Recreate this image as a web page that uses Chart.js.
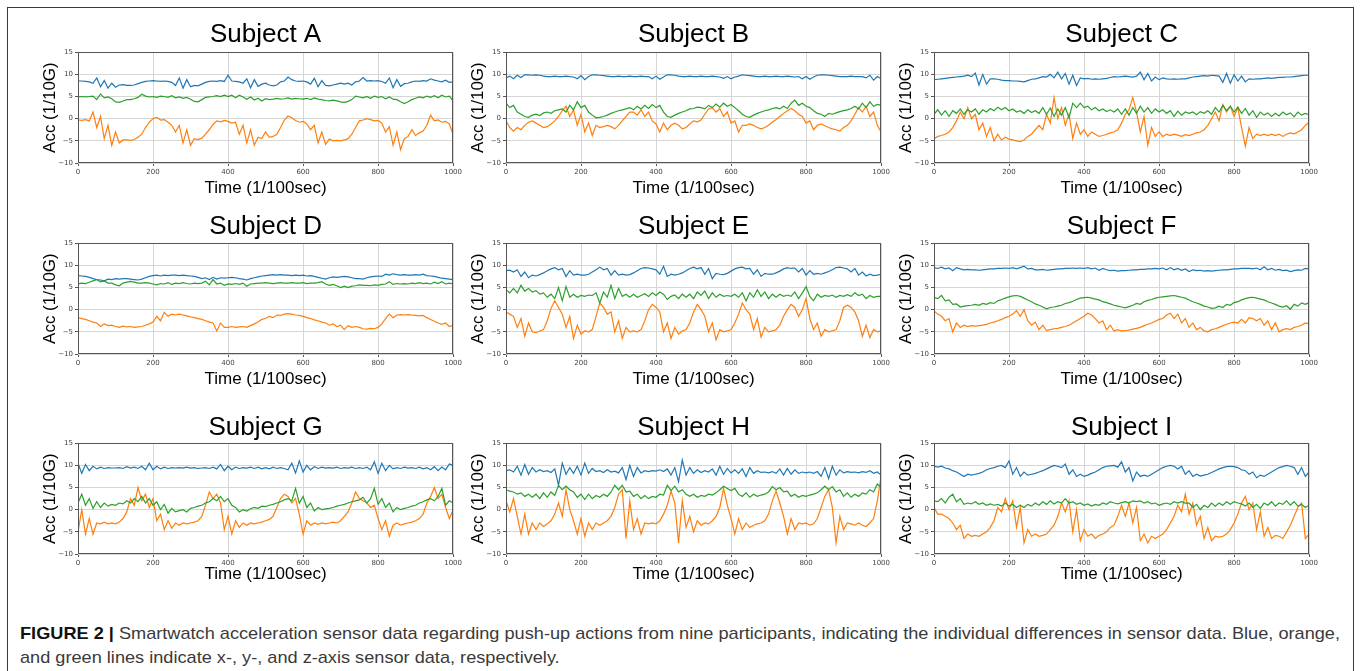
<!DOCTYPE html>
<html>
<head>
<meta charset="utf-8">
<title>Smartwatch push-up acceleration</title>
<script src="https://cdn.jsdelivr.net/npm/chart.js@4.4.1/dist/chart.umd.min.js"></script>
<style>
  html, body { margin: 0; padding: 0; background: #fff; overflow: hidden; }
  body { width: 1360px; height: 671px; position: relative; font-family: "Liberation Sans", Arial, sans-serif; }
  #frame { position: absolute; left: 7px; top: 7px; width: 1347px; height: 700px; border: 1px solid #3a3a3a; box-sizing: border-box; }
  .panel { position: absolute; width: 430px; height: 187px; }
  #caption { position: absolute; left: 20px; top: 622px; font-size: 17px; line-height: 24px; color: #3a3a3a; white-space: nowrap; transform-origin: 0 0; }
  #caption b { color: #111; }
</style>
</head>
<body>
<div id="frame"></div>
<div id="caption">
  <div id="capLine1"><b>FIGURE 2 |</b> Smartwatch acceleration sensor data regarding push-up actions from nine participants, indicating the individual differences in sensor data. Blue, orange,</div>
  <div>and green lines indicate x-, y-, and z-axis sensor data, respectively.</div>
</div>
<script>
// axis ticks
const xTicks = [0, 200, 400, 600, 800, 1000];
const yTicks = [-10, -5, 0, 5, 10, 15];
// sample times (1/100 sec), one reading every 10
const sampleTimes = Array.from({ length: 101 }, (_, i) => i * 10);

const subjects = ['Subject A', 'Subject B', 'Subject C', 'Subject D', 'Subject E', 'Subject F', 'Subject G', 'Subject H', 'Subject I'];

// Subject A
const accA_x = [8.5,8.5,8.4,8.3,8.0,9.2,7.2,8.6,6.9,8.0, 7.1,7.6,7.7,7.5,7.5,7.6,7.9,8.2,8.4,8.5, 8.6,8.5,8.4,8.5,8.4,8.2,7.5,9.2,6.9,8.8, 7.2,7.5,7.4,7.8,8.2,8.4,8.5,8.4,8.6,8.4, 9.8,8.5,8.4,8.3,8.0,9.0,7.0,8.8,7.3,7.8, 8.0,7.6,7.4,7.6,8.3,8.5,9.4,8.8,8.5,8.4, 8.5,8.3,7.8,9.1,7.2,8.6,7.5,7.4,7.6,7.8, 8.0,7.8,8.0,7.6,8.3,8.5,9.3,8.5,8.6,8.5, 8.6,8.4,8.0,9.2,7.0,8.8,7.3,7.9,8.0,8.3, 8.5,8.4,8.6,8.5,9.0,8.7,8.5,8.3,8.7,8.2, 8.3];
const accA_y = [-0.3,-0.4,-0.2,-0.5,1.5,-2,0.5,-4.5,-1.5,-6, -3,-5.5,-4.8,-4.8,-4.9,-4.7,-4.2,-3.5,-2,-0.8, 0,0.3,-0.3,-0.2,-0.8,-1.5,-3,-1.5,-5.5,-2.5, -6,-4.5,-4.7,-4.4,-3.5,-2.5,-1.3,-0.5,-0.7,-0.4, -0.6,-1,-0.8,-3.5,-1.5,-5.5,-2.5,-6,-4.2,-4.5, -3,-4.2,-4,-3.5,-2,-0.3,0.6,0.2,-0.4,-0.8, -0.6,-1.2,-2.5,-1.5,-5.5,-3,-5.8,-4.6,-5,-4.9, -5,-4.8,-4.5,-3.5,-2,-0.5,-0.3,0,-0.2,-0.5, -0.4,-1,-3,-1.8,-6,-3,-7,-4.5,-4,-2.5, -3.8,-3.2,-2.8,-1.5,0.8,-0.5,-0.3,-0.8,-0.6,-1.2, -3.5];
const accA_z = [4.9,5.0,4.9,5.0,5.1,4.3,5.6,4.7,4.9,4.5, 3.8,3.7,4.0,4.3,4.3,4.5,4.8,5.5,5.1,4.9, 5.0,4.8,5.1,5.0,4.8,5.2,4.7,4.9,4.6,4.8, 4.4,3.9,3.8,4.3,4.8,4.9,5.0,5.2,5.0,5.3, 5.0,5.3,4.7,5.3,4.9,4.4,4.9,4.2,4.6,4.0, 4.5,4.3,4.4,4.6,4.4,4.5,4.7,4.4,4.6,4.5, 4.4,4.6,4.3,4.7,4.4,4.3,4.1,4.0,4.2,4.0, 3.8,3.7,3.9,4.3,5.1,4.9,4.7,5.0,4.6,5.1, 4.8,5.0,4.5,4.9,4.4,4.3,3.8,3.4,3.8,4.3, 4.6,4.9,4.7,5.1,4.8,5.2,4.7,5.3,4.9,5.1, 4.0];

// Subject B
const accB_x = [9.2,9.6,9.0,9.8,9.3,9.9,9.9,9.8,9.9,9.8, 9.6,9.5,9.5,9.6,9.5,9.5,9.6,9.5,9.4,9.0, 9.7,8.8,9.5,9.9,9.9,9.8,9.7,9.6,9.5,9.5, 9.6,9.5,9.5,9.6,9.5,9.5,9.6,9.5,9.5,9.0, 9.6,8.9,9.4,9.9,9.9,9.8,9.6,9.5,9.5,9.6, 9.5,9.5,9.6,9.5,9.5,9.6,9.5,9.4,9.1,9.5, 9.0,9.4,9.6,9.9,9.8,9.7,9.6,9.5,9.5,9.6, 9.5,9.5,9.6,9.5,9.5,9.6,9.5,9.4,9.5,9.0, 9.5,8.9,9.4,9.8,9.9,9.9,9.8,9.7,9.6,9.5, 9.5,9.5,9.6,9.5,9.5,9.5,9.2,9.8,8.7,9.5, 9.0];
const accB_y = [-0.5,-2,-2.8,-2,-2.5,-1.5,-0.8,-0.5,-1,-1.5, -2,-1.8,-1.2,-0.5,0.5,1.8,2.8,0.5,2,-1.5, 1,-3,-1,-3.8,-1.5,-2,-1.8,-1.5,-1.8,-2.3, -1.5,-0.5,0.5,1.5,1.5,0.8,2,0.5,1.5,-0.5, -1.2,-3,-1,-2.5,-1.5,-1,-1.5,-2.3,-2,-1.2, -0.5,-0.7,-0.3,1,2.2,2.5,1.5,2.3,0.5,1.5, -1,-0.5,-3,-1.5,-1.5,-1.2,-1.5,-2,-2.3,-2, -1.5,-0.8,-0.2,0.5,1.2,1.8,2.3,1.8,1,0.5, -1,-0.5,-2.5,-1.5,-1.2,-1.6,-2,-2.3,-2.5,-2.8, -2,-1.5,-0.5,1,2.5,1.5,2.8,0.5,1.5,-1.5, -3];
const accB_z = [3.5,2.5,3.0,1.5,1.0,0.5,0.3,0.8,1.0,0.7, 1.3,1.5,1.2,1.8,2.0,2.2,1.5,3.0,2.0,3.8, 2.5,3.0,1.5,0.8,0.2,0.3,0.5,0.8,1.2,1.5, 1.8,2.0,2.2,2.5,2.0,2.8,2.2,3.0,2.3,3.2, 2.5,3.0,1.5,0.5,0.3,0.8,1.2,1.5,1.8,2.2, 2.3,2.6,2.5,2.2,3.0,2.5,3.3,2.6,3.5,2.8, 3.2,2.5,1.8,1.0,0.5,0.3,0.8,1.2,1.5,1.8, 2.0,2.3,2.5,2.2,2.8,2.3,3.5,4.2,3.0,3.5, 2.8,2.5,1.8,1.2,1.0,0.5,1.2,1.0,1.3,1.6, 1.8,2.0,2.3,2.8,2.2,3.5,2.5,3.8,2.8,3.2, 3.0];

// Subject C
const accC_x = [8.8,8.9,9.0,9.1,9.2,9.3,9.4,9.5,9.6,9.8, 9.5,10.3,7.6,10.0,7.8,9.0,9.0,8.9,8.7,8.6, 8.6,8.5,8.5,8.4,8.3,8.6,8.9,9.0,9.2,9.5, 9.4,10.0,9.2,10.5,9.0,10.2,7.8,9.8,7.5,9.2, 9.0,9.1,8.9,9.0,8.9,9.0,9.1,9.3,9.5,9.4, 9.5,9.6,9.5,9.4,9.6,10.5,8.8,10.2,8.5,9.4, 8.8,9.2,9.0,8.9,9.0,8.9,9.0,9.0,9.2,9.4, 9.5,9.6,9.7,9.6,9.8,9.7,9.6,8.2,10.2,8.0, 9.9,8.5,9.6,8.3,9.0,8.9,9.0,9.0,9.1,9.2, 9.1,9.2,9.3,9.3,9.4,9.4,9.5,9.6,9.7,9.8, 9.8];
const accC_y = [-4.5,-4,-3.8,-3.5,-3,-2,-0.5,1.5,0,2.5, 0,1,-2.5,-1,-4,-2,-5,-3.5,-4.8,-4.2, -4.6,-4.8,-5,-5.2,-4.8,-4,-3.5,-2.5,-1.5,-2.5, 1,-1,4.8,0,2.5,-1.5,1,-4.5,-1,-3.5, -2.5,-4,-3,-3.5,-4,-3.8,-3.5,-3.2,-3,-2.5, -1,1,2,4.8,1.5,-3,0.5,-6,-2,-4, -3,-4,-3.5,-3.8,-3.5,-3.7,-4,-3.6,-3.8,-3.5, -3.2,-3,-2.5,-1.5,0,1.5,-0.5,3.2,1.5,2.8, 0.5,2.5,-2,-6.2,-2,-4.5,-3.5,-3.8,-3.5,-3.8, -3.5,-3.8,-3.5,-4,-3.5,-3.2,-3.4,-3,-2.5,-1.5, -0.8];
const accC_z = [1.0,2.0,0.8,1.8,0.5,1.8,1.2,2.2,1.0,2.0, 1.5,2.2,1.0,2.0,1.5,2.3,1.8,2.6,2.0,2.5, 1.8,2.2,1.5,1.8,1.2,2.0,1.4,1.8,1.2,2.5, 1.0,2.4,0.5,2.2,0.8,2.5,0.2,3.5,2.5,3.5, 2.5,2.8,2.0,2.5,1.8,2.2,1.6,2.0,1.5,2.2, 1.0,2.2,0.8,2.5,1.2,2.8,1.5,2.5,1.2,2.2, 1.5,2.0,1.2,1.8,0.5,1.7,0.8,1.5,1.2,1.5, 0.9,1.6,1.2,1.8,1.0,2.5,1.5,3.0,1.8,2.8, 1.5,2.6,1.2,2.3,0.8,1.8,0.3,1.5,0.8,1.3, 0.5,1.2,0.6,1.5,0.9,1.3,0.4,1.5,0.8,1.2, 0.9];

// Subject D
const accD_x = [7.7,7.6,7.5,7.3,7.0,6.8,6.7,6.5,6.9,6.8, 7.0,6.9,7.0,7.0,6.9,6.8,6.7,6.9,7.2,7.5, 7.7,7.8,7.6,7.8,7.7,7.8,7.8,7.7,7.8,7.7, 7.6,7.5,7.3,7.0,7.2,6.8,7.3,6.9,7.2,7.1, 7.2,7.3,7.2,7.0,6.9,6.7,7.0,7.2,7.4,7.6, 7.7,7.8,7.9,7.8,7.9,7.8,7.8,7.7,7.8,7.7, 7.8,7.6,7.7,7.5,7.3,7.1,6.9,7.2,7.4,7.3, 7.4,7.5,7.4,7.2,7.0,7.0,6.9,7.2,7.4,7.5, 7.6,7.5,8.0,7.8,8.1,7.9,7.8,7.9,7.8,7.8, 7.9,7.8,8.0,7.7,7.6,7.5,7.3,7.1,7.0,6.9, 6.8];
const accD_y = [-1.8,-2.0,-2.2,-2.5,-2.8,-3.0,-3.8,-3.2,-3.6,-3.5, -3.8,-4.0,-3.7,-3.9,-3.8,-4.0,-3.9,-3.8,-3.5,-3.2, -2.8,-1.5,-2.5,-0.6,-1.5,-1.0,-1.2,-1.0,-1.2,-1.4, -1.6,-1.8,-2.0,-2.2,-2.5,-2.8,-3.0,-4.8,-3.0,-4.0, -4.0,-3.8,-4.0,-3.9,-3.8,-4.0,-3.6,-3.2,-2.8,-2.2, -2.0,-1.5,-1.8,-1.2,-1.3,-1.0,-0.9,-1.0,-1.2,-1.3, -1.5,-1.8,-2.0,-2.3,-2.5,-2.8,-3.0,-3.5,-3.2,-3.8, -3.5,-4.5,-3.6,-4.0,-3.8,-4.0,-4.3,-4.4,-4.2,-4.3, -4.0,-3.2,-2.0,-1.0,-1.8,-1.2,-1.1,-1.2,-1.1,-1.2, -1.3,-1.4,-1.3,-1.8,-2.2,-2.6,-3.0,-3.3,-3.0,-3.8, -3.5];
const accD_z = [5.8,6.0,5.9,6.2,6.5,6.8,6.3,6.5,6.0,6.0, 5.6,5.4,6.0,6.2,6.4,6.2,6.0,6.0,6.1,6.0, 5.8,5.6,5.9,5.8,6.1,5.7,6.0,5.9,6.1,5.9, 5.8,6.0,5.9,6.0,6.4,5.6,6.8,5.8,6.0,5.5, 5.8,5.7,5.9,5.7,6.0,5.3,5.8,5.9,6.0,6.0, 6.1,6.0,5.9,6.0,6.1,6.0,6.0,6.1,6.0,6.0, 6.1,5.9,6.0,6.0,6.1,6.3,5.8,5.5,5.7,5.4, 5.0,5.3,5.0,5.3,5.4,5.6,5.5,5.5,5.4,5.6, 5.5,5.7,5.8,6.3,5.7,5.9,5.8,5.9,5.8,6.0, 5.9,6.1,5.9,6.0,5.8,6.2,5.9,6.3,5.8,6.0, 5.8];

// Subject E
const accE_x = [8.8,8.9,8.5,9.0,7.5,8.5,7.2,7.8,7.6,7.9, 8.3,8.8,9.2,9.5,9.0,9.3,7.5,8.8,7.8,8.0, 7.8,7.8,8.0,8.5,9.0,9.6,9.0,9.3,7.8,8.8, 7.8,8.0,7.8,7.9,8.3,8.8,9.3,9.5,9.4,9.2, 9.0,8.0,9.8,7.5,8.0,7.8,8.0,8.3,8.8,9.3, 9.6,9.2,9.5,8.0,9.3,7.0,8.2,8.0,7.9,8.2, 8.7,9.2,9.5,9.6,9.2,9.3,8.0,9.0,7.5,8.2, 8.0,8.0,8.3,8.7,9.2,9.5,9.3,9.4,8.5,9.3, 7.8,8.8,8.0,8.2,8.0,8.3,8.6,9.0,9.5,9.6, 9.4,9.2,8.5,9.3,7.8,8.5,7.6,8.0,7.7,7.8, 8.0];
const accE_y = [-0.5,-1,-1.5,-4,-2,-6,-3,-5,-5.2,-4.8, -4.5,-2.5,0.3,2,0.5,-1,-4,-1.5,-6.5,-3.5, -5.5,-4.8,-5,-4.5,-1.5,1.5,0.5,-1,-0.5,-5, -2.5,-6.5,-4,-5,-4.8,-5,-4.5,-2.5,0,1.2, 0.5,-0.5,-5,-3,-6.5,-4,-5.5,-4.8,-4.5,-3, -0.5,1.2,0,-1.5,-5,-3,-6.8,-4.5,-5,-4.8, -4.5,-3,-1,1.5,0,-1,-4.5,-2,-6.2,-4, -5,-4.8,-4.5,-3.5,-1.5,0,1.2,0.5,-1.5,0, 2.5,-2,-4.5,-3,-6,-4.5,-5,-4.8,-4.5,-2.5, 0.5,1,0.5,-0.5,-2.5,-6,-3.5,-6.3,-4.5,-5, -4.8];
const accE_z = [4.5,3.8,4.8,3.8,5.5,4.2,4.8,4.0,4.3,3.5, 3.8,2.8,3.5,2.5,5.0,2.0,5.2,2.8,3.5,2.8, 3.2,3.0,3.3,3.2,3.8,1.5,4.0,2.8,5.5,2.5, 4.8,3.0,3.5,2.8,3.5,2.8,3.2,3.6,3.0,3.8, 3.2,4.0,3.5,2.3,3.0,3.3,2.5,3.5,2.8,3.5, 2.5,4.0,3.2,4.2,2.5,3.8,2.8,3.5,3.0,3.2, 3.0,3.5,2.8,3.8,2.0,3.8,2.8,4.5,3.0,4.0, 2.5,3.5,2.8,3.5,3.0,3.3,3.0,4.0,2.5,3.8, 5.2,3.0,2.0,3.5,2.8,3.2,3.0,3.3,2.8,3.2, 3.0,3.4,3.0,3.8,3.2,3.5,2.5,3.2,2.8,3.0, 3.0];

// Subject F
const accF_x = [9.5,9.3,9.6,9.2,9.4,8.8,9.5,9.2,9.0,9.1, 9.0,9.0,8.9,9.0,9.1,9.2,9.2,9.3,9.3,9.4, 9.3,9.5,9.2,9.5,9.8,9.2,9.3,9.0,9.0,9.1, 8.9,9.0,9.1,9.2,9.2,9.3,9.3,9.4,9.3,9.4, 9.3,9.5,9.2,9.4,8.9,9.3,9.0,8.8,8.9,8.7, 8.8,8.8,8.9,9.0,9.0,9.1,9.1,9.2,9.2,9.3, 9.2,9.4,9.0,9.5,9.0,9.3,8.9,9.2,8.6,9.0, 8.8,8.9,8.7,8.8,8.7,8.8,8.9,9.0,9.0,9.1, 9.2,9.2,9.3,9.3,9.3,9.2,9.4,9.0,9.7,9.0, 9.3,8.9,9.1,8.8,8.9,8.6,8.8,9.0,8.9,9.3, 9.2];
const accF_y = [-0.3,-1.0,-1.5,-2.5,-2.0,-5.0,-3.0,-4.0,-3.5,-3.8, -3.6,-3.7,-3.6,-3.5,-3.3,-3.0,-2.8,-2.5,-2.2,-1.8, -1.5,-1.0,-0.2,-1.5,0.0,-2.5,-3.5,-2.8,-4.5,-3.5, -4.7,-4.5,-4.3,-4.2,-4.0,-3.8,-3.5,-3.0,-2.5,-2.0, -1.5,-0.8,-1.2,-2.0,-3.0,-2.5,-4.5,-3.5,-4.8,-4.5, -4.8,-4.7,-4.6,-4.4,-4.2,-4.0,-3.6,-3.3,-3.0,-2.6, -2.2,-2.0,-1.2,-0.8,-2.0,-1.0,-3.0,-2.0,-4.0,-3.0, -4.5,-4.0,-4.8,-5.0,-4.5,-4.3,-4.0,-3.6,-3.3,-3.0, -2.8,-3.0,-2.2,-3.0,-1.8,-2.0,-2.5,-2.0,-3.5,-2.5, -4.5,-3.0,-5.0,-4.5,-4.3,-4.5,-4.0,-3.8,-3.5,-3.0, -3.2];
const accF_z = [2.8,2.5,3.2,2.0,2.2,1.2,1.3,0.6,0.8,0.9, 1.0,1.2,1.0,1.4,1.2,1.6,1.4,2.0,2.3,2.6, 2.9,3.1,3.2,3.0,2.6,2.2,1.8,1.3,1.0,0.6, 0.2,0.5,0.6,0.8,1.0,1.4,1.6,1.9,2.3,2.6, 2.7,2.8,2.6,2.4,2.2,1.8,1.6,1.3,1.0,0.8, 0.6,0.4,0.7,1.0,1.4,1.2,1.8,2.1,2.3,2.6, 2.8,2.9,3.0,3.1,3.2,3.0,2.8,2.6,2.2,1.8, 1.5,1.2,0.8,0.6,0.3,0.4,0.8,0.5,1.2,1.0, 1.6,1.8,2.2,2.5,2.7,2.8,2.6,2.4,2.2,1.8, 1.5,1.2,0.8,0.6,0.9,0.1,1.2,0.8,1.5,1.2, 1.6];

// Subject G
const accG_x = [10.5,8.2,10.2,8.8,9.8,9.2,9.6,9.3,9.5,9.4, 9.4,9.5,9.3,9.7,9.4,9.6,9.3,9.8,9.0,10.5, 9.0,9.8,9.2,9.6,9.3,9.5,9.4,9.5,9.4,9.6, 9.4,9.5,9.3,9.4,9.5,9.3,9.6,9.2,10.2,8.8, 9.8,9.0,9.6,9.3,9.5,9.4,9.6,9.3,9.6,9.2, 9.5,9.2,9.6,9.3,9.5,9.3,9.0,10.5,8.3,11.0, 8.5,10.0,9.0,9.7,9.3,9.6,9.4,9.5,9.4,9.6, 9.3,9.5,9.4,9.6,9.3,9.5,9.3,9.6,9.0,10.8, 8.2,10.5,8.8,10.0,9.2,9.5,9.3,9.6,9.4,9.5, 9.3,9.6,9.2,9.5,9.0,9.7,8.8,9.6,9.0,10.3, 10.0];
const accG_y = [-5,0,-5.5,-2,-5.5,-3,-3.2,-2.8,-3.2,-3.0, -3.2,-2.8,-2.0,-0.5,2.5,1.0,5.0,2.0,3.5,0.5, 2.5,-2.5,-1.0,-4.5,-2.5,-4.2,-3.0,-3.5,-3.0,-3.2, -3.0,-2.8,-2.5,-1.5,1.0,4.0,2.5,3.5,1.5,-4.5, -1.5,-5.5,-2.5,-4.0,-3.0,-3.5,-3.0,-3.2,-3.0,-2.8, -2.5,-2.2,-1.5,0.5,2.5,3.5,3.0,1.5,2.5,-1.0, -5.5,-2.5,-3.5,-3.0,-3.3,-3.0,-3.2,-3.0,-2.8,-3.0, -2.5,-1.5,-0.5,1.5,4.0,2.5,2.0,1.5,0.5,1.0, -2.0,-4.5,-2.5,-6.0,-3.5,-3.0,-3.5,-3.2,-3.0,-2.8, -2.5,-2.0,-1.0,1.5,3.0,5.0,2.5,3.5,0.5,-2.0, 0.0];
const accG_z = [1.5,3.5,1.0,2.5,0.3,1.8,0.5,1.5,0.8,1.2, 1.0,1.5,1.3,2.0,1.5,2.5,1.8,3.0,1.5,2.5, 1.0,1.8,0.0,1.2,-0.8,0.3,-0.5,-0.2,0.0,-0.5, 0.3,0.5,0.8,1.0,1.5,1.8,2.5,2.0,3.0,1.8, 2.5,1.0,0.5,-0.5,0.0,-0.3,0.2,0.5,0.3,0.8, 0.7,1.0,1.2,1.5,1.8,2.2,2.5,2.0,4.8,1.5, 3.0,0.5,1.5,-0.3,0.5,0.0,0.2,0.3,0.5,0.8, 1.0,1.2,1.5,1.8,2.0,2.2,2.8,1.5,2.5,4.8, 1.2,2.5,0.5,1.5,-0.5,0.5,0.0,0.3,0.5,0.8, 1.0,1.5,1.8,2.2,2.5,2.0,3.0,4.8,1.0,2.0, 1.5];

// Subject H
const accH_x = [8.8,9.0,8.5,9.8,7.8,10.2,8.0,9.5,8.5,9.0, 8.6,8.8,8.4,9.2,5.5,10.5,8.0,9.5,8.2,9.8, 7.8,10.5,8.2,9.3,8.6,8.8,8.4,9.0,8.5,8.7, 8.3,9.5,6.8,10.0,7.5,9.5,8.3,8.8,8.6,8.8, 8.7,9.0,8.6,9.2,7.8,9.5,6.3,11.2,7.8,9.5, 8.2,9.0,8.4,8.8,8.5,9.2,7.8,9.8,8.0,9.3, 8.3,9.0,8.2,9.2,7.5,9.5,8.2,8.8,8.4,8.5, 8.3,8.6,8.2,9.2,7.8,9.3,8.0,9.0,8.2,8.5, 8.3,8.5,8.2,8.6,7.5,9.5,7.0,9.8,7.8,9.0, 8.3,8.6,8.4,8.5,8.3,8.6,8.4,8.8,8.2,8.5, 7.8];
const accH_y = [2.0,-0.5,2.5,-1.5,-5.5,-1.0,-5.5,-3.0,-4.5,-3.0, -3.8,-3.2,-2.5,-1.0,1.5,-1.5,4.5,0.0,-2.5,-5.5, -2.0,-6.0,-3.0,-4.5,-3.0,-3.5,-3.0,-2.5,-1.5,0.5, 3.5,4.5,-6.5,2.0,-4.5,-2.0,-5.5,-3.0,-3.2,-3.0, -3.2,-2.5,-1.0,1.0,4.2,1.5,-7.5,2.0,-4.0,-1.5, -5.0,-2.5,-3.5,-3.0,-3.2,-2.5,-1.5,0.5,4.8,1.0, -2.0,-5.5,-2.0,-4.5,-3.0,-4.0,-3.5,-3.2,-3.0,-2.5, -1.0,2.0,4.2,1.5,-1.5,-5.5,-2.0,-4.5,-3.0,-3.2, -3.0,-3.5,-3.2,-2.0,0.5,3.0,4.5,0.5,-7.5,-1.5, -4.5,-3.0,-3.2,-3.5,-3.0,-3.5,-3.8,-3.0,-2.0,2.0, 7.5];
const accH_z = [4.5,4.2,4.0,3.5,3.8,3.0,3.5,2.8,3.5,2.5, 3.8,2.8,4.0,3.2,5.5,4.5,5.3,4.5,4.0,2.8, 3.5,2.3,3.5,2.5,3.2,2.8,3.5,3.0,4.0,5.5, 4.5,5.5,4.0,4.2,3.0,3.5,2.5,3.2,2.5,3.0, 2.8,3.5,3.3,5.5,4.3,5.3,4.0,4.5,3.5,3.0, 3.5,2.8,3.2,3.0,3.5,3.3,3.8,4.5,5.3,4.8, 4.3,4.8,3.5,3.0,3.8,2.8,3.5,3.0,3.3,3.5, 4.0,5.2,4.5,5.0,4.0,4.2,3.0,3.5,2.8,3.2, 3.0,3.3,3.5,3.8,4.5,5.3,4.5,5.2,4.0,4.5, 3.0,3.8,2.8,3.5,3.0,3.8,3.5,4.5,4.0,5.8, 5.0];

// Subject I
const accI_x = [9.8,9.6,9.8,9.4,9.2,8.8,8.5,8.0,7.5,8.0, 7.8,8.0,8.2,8.5,9.0,9.3,9.5,9.8,10.0,9.5, 11.0,8.0,9.5,7.5,8.5,7.8,8.0,8.2,8.5,8.8, 9.2,9.6,10.0,9.8,9.5,10.3,8.0,9.0,7.5,8.0, 7.5,7.8,8.2,8.5,9.0,9.5,9.8,9.9,10.0,9.6, 10.8,8.5,9.5,6.5,8.5,7.5,7.8,7.5,8.0,8.5, 9.0,9.5,9.8,10.0,9.8,9.2,9.8,8.0,8.8,7.5, 8.0,7.6,7.8,8.0,8.4,8.8,9.2,9.5,9.7,9.8, 9.7,9.5,9.0,8.8,8.0,8.5,7.2,7.8,7.5,8.0, 8.5,9.0,9.5,9.7,10.0,9.8,9.5,8.0,9.5,7.5, 8.5];
const accI_y = [0.5,-1.0,-1.0,-1.5,-2.0,-3.0,-4.5,-3.5,-6.5,-5.5, -6.0,-5.8,-6.0,-5.5,-5.0,-4.0,-2.5,0.5,-0.5,2.5, 0.0,2.0,-4.0,0.5,-7.5,-4.5,-6.0,-5.5,-6.0,-5.8, -5.5,-4.5,-3.5,-1.5,1.5,-0.5,2.0,-5.0,0.0,-7.0, -4.5,-6.0,-5.5,-6.5,-5.8,-5.5,-5.0,-4.0,-3.5,-1.5, 1.0,-1.5,1.5,-3.0,0.5,-7.0,-5.5,-7.5,-6.0,-6.5, -6.0,-5.5,-4.5,-3.0,-1.5,1.0,-0.5,3.5,-1.0,1.5, -3.5,-1.5,-6.5,-4.0,-7.0,-6.0,-6.2,-6.0,-5.5,-4.5, -3.0,-1.0,1.5,3.0,0.0,1.5,-4.5,-0.5,-6.0,-4.0, -6.5,-5.8,-6.0,-6.5,-5.0,-3.5,-1.5,0.5,1.5,-6.5, -5.5];
const accI_z = [2.0,1.8,2.5,1.5,2.8,3.5,1.8,2.5,1.2,1.5, 1.3,1.8,1.2,1.5,1.0,1.3,1.0,1.2,0.8,1.5, 0.8,1.2,0.5,1.0,0.5,1.2,0.8,1.5,1.0,1.8, 1.2,2.0,1.3,1.8,1.5,2.5,1.5,1.8,1.2,1.5, 1.0,1.3,0.8,1.2,1.0,1.5,1.2,1.8,1.5,1.3, 1.6,1.8,1.5,2.0,1.8,2.0,1.5,1.8,1.3,1.5, 1.0,1.3,1.5,1.2,1.8,1.5,1.8,1.5,1.5,0.5, 1.2,0.0,1.0,0.5,1.5,0.8,1.5,1.0,1.8,1.2, 1.8,1.5,1.3,0.8,1.5,0.5,1.2,0.3,1.5,1.0, 1.8,0.8,1.5,1.2,2.0,1.0,1.8,0.8,1.2,0.5, 1.0];

const xSeries = [accA_x, accB_x, accC_x, accD_x, accE_x, accF_x, accG_x, accH_x, accI_x];
const ySeries = [accA_y, accB_y, accC_y, accD_y, accE_y, accF_y, accG_y, accH_y, accI_y];
const zSeries = [accA_z, accB_z, accC_z, accD_z, accE_z, accF_z, accG_z, accH_z, accI_z];

// layout of the 3x3 grid (plot area corners in page pixels)
const colLeft = [78, 506, 934];
const rowTop = [52, 243, 443];
const titlePadTop = [7, 8, 9];
const xlabelPadBottom = [0, 0, 5];

const BLUE = '#1f77b4', ORANGE = '#ff7f0e', GREEN = '#2ca02c';
const FONT = '"Liberation Sans", Arial, sans-serif';
const TICKFONT = '"DejaVu Sans", sans-serif';

Chart.defaults.font.family = FONT;

// matplotlib-like box around the plot area
const spineBox = {
  id: 'spineBox',
  afterDatasetsDraw(chart) {
    const { ctx, chartArea: a } = chart;
    ctx.save();
    ctx.strokeStyle = '#555';
    ctx.lineWidth = 1;
    ctx.strokeRect(Math.round(a.left) + 0.5, Math.round(a.top) + 0.5,
                   Math.round(a.right - a.left) - 1, Math.round(a.bottom - a.top) - 1);
    ctx.restore();
  }
};

function toPoints(vals) {
  return vals.map((v, i) => ({ x: sampleTimes[i], y: v }));
}

function makePanel(idx) {
  const col = idx % 3, row = Math.floor(idx / 3);
  const div = document.createElement('div');
  div.className = 'panel';
  div.style.left = (colLeft[col] - 44) + 'px';
  div.style.top = (rowTop[row] - 40) + 'px';
  const cv = document.createElement('canvas');
  cv.width = 430; cv.height = 187;
  div.appendChild(cv);
  document.body.appendChild(div);

  new Chart(cv, {
    type: 'line',
    data: {
      datasets: [
        { label: 'z', data: toPoints(zSeries[idx]), borderColor: GREEN, order: 0 },
        { label: 'y', data: toPoints(ySeries[idx]), borderColor: ORANGE, order: 1 },
        { label: 'x', data: toPoints(xSeries[idx]), borderColor: BLUE, order: 2 }
      ]
    },
    options: {
      responsive: false,
      animation: false,
      events: [],
      elements: { point: { radius: 0 }, line: { borderWidth: 1.2, tension: 0 } },
      layout: { padding: { left: 0, right: 8, top: 0, bottom: 0 } },
      plugins: {
        legend: { display: false },
        tooltip: { enabled: false },
        title: {
          display: true, text: subjects[idx], color: '#000', fullSize: false,
          font: { size: 26, weight: 'normal', family: FONT },
          padding: { top: titlePadTop[row], bottom: 9 - titlePadTop[row] }
        }
      },
      scales: {
        x: {
          type: 'linear', min: 0, max: 1000,
          afterBuildTicks: s => { s.ticks = xTicks.map(v => ({ value: v })); },
          afterFit: s => { s.height = 36; },
          ticks: { color: '#444', font: { size: 7, family: TICKFONT }, maxRotation: 0, padding: 2,
                   callback: v => String(v) },
          grid: { color: '#d6d6d6', lineWidth: 1, tickLength: 3, tickColor: '#555' },
          border: { display: false },
          title: { display: true, text: 'Time (1/100sec)', color: '#000', font: { size: 17, family: FONT },
                   padding: { top: 0, bottom: xlabelPadBottom[row] } }
        },
        y: {
          min: -10, max: 15,
          afterBuildTicks: s => { s.ticks = yTicks.map(v => ({ value: v })); },
          afterFit: s => { s.width = 44; },
          ticks: { color: '#444', font: { size: 7, family: TICKFONT }, padding: 2,
                   callback: v => (v < 0 ? '\u2212' + Math.abs(v) : String(v)) },
          grid: { color: '#d6d6d6', lineWidth: 1, tickLength: 3, tickColor: '#555' },
          border: { display: false },
          title: { display: true, text: 'Acc (1/10G)', color: '#000', font: { size: 17, family: FONT }, padding: { top: 6, bottom: 0 } }
        }
      }
    },
    plugins: [spineBox]
  });
}

for (let i = 0; i < 9; i++) makePanel(i);

// squeeze the caption to the width it has in the printed figure
const cap = document.getElementById('caption');
const line1 = document.getElementById('capLine1');
const w = line1.getBoundingClientRect().width;
cap.style.transform = 'scaleX(' + (1320 / w) + ')';
</script>
</body>
</html>
